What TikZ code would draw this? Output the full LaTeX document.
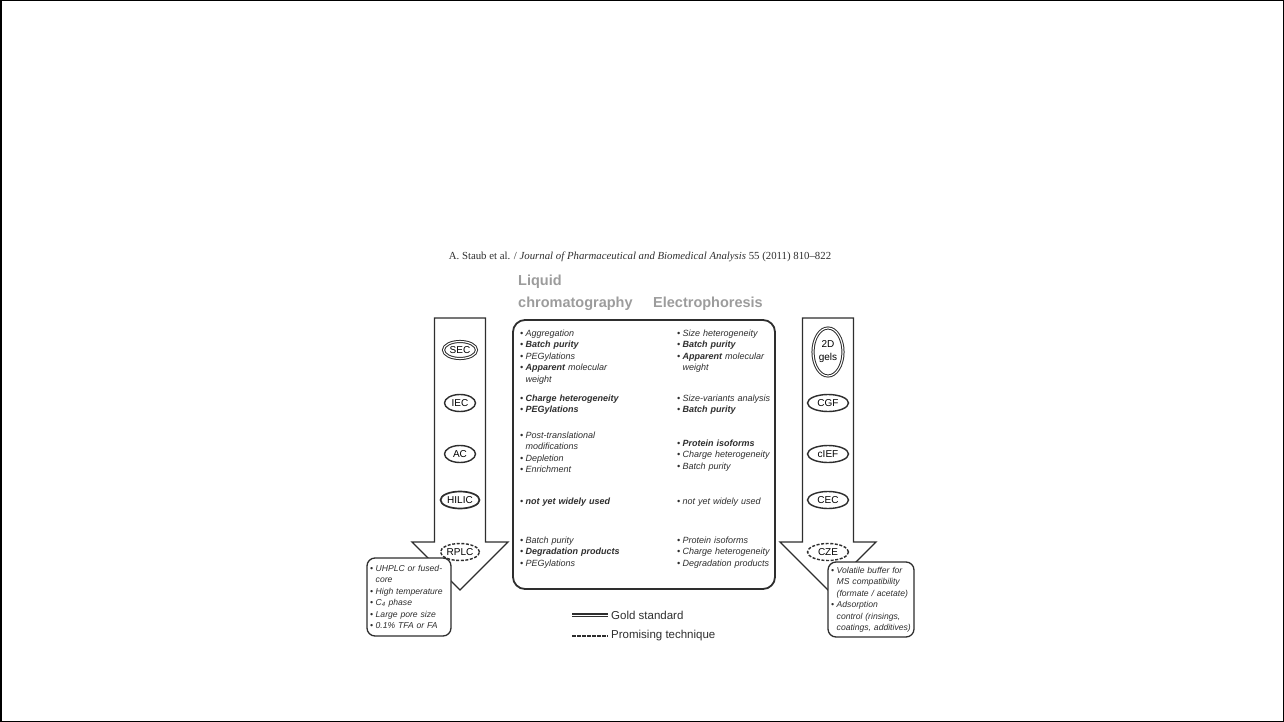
\documentclass[tikz,border=0pt]{standalone}
\usepackage{fontspec}
\setmainfont{Liberation Serif}
\setsansfont{Liberation Sans}
\usetikzlibrary{shapes.geometric}
\definecolor{ink}{HTML}{2E2E2E}
\definecolor{hdrgray}{HTML}{9C9C9C}
\newcommand{\myb}{\makebox[5.5pt][l]{\textbullet}}
\newcommand{\myc}{\hspace*{5.5pt}}
\begin{document}
\begin{tikzpicture}[x=1pt,y=-1pt,
  arrowshape/.style={draw=ink, line width=1.3pt, fill=white, line join=miter},
  mainbox/.style={draw=ink, line width=1.8pt, rounded corners=12pt, fill=white, inner sep=0pt},
  notebox/.style={draw=ink, line width=1.3pt, rounded corners=8pt, fill=white, inner sep=0pt},
  tech/.style={ellipse, draw=ink, line width=1.4pt, fill=white, inner sep=0pt, font=\sffamily\fontsize{10}{10}\selectfont, minimum height=17pt},
  gold/.style={tech, double=white, double distance=1.1pt, line width=1pt},
  promising/.style={tech, dash pattern=on 3pt off 1.6pt},
  items/.style={anchor=base west, inner sep=0pt, text width=140pt, align=left, font=\sffamily\itshape\fontsize{9}{11.5}\selectfont, text=ink},
  notes/.style={anchor=base west, inner sep=0pt, text width=90pt, align=left, font=\sffamily\itshape\fontsize{8.6}{11.5}\selectfont, text=ink},
  hdr/.style={anchor=base west, inner sep=0pt, font=\sffamily\bfseries\fontsize{14.5}{16}\selectfont, text=hdrgray},
  legend/.style={anchor=west, inner sep=0pt, font=\sffamily\fontsize{11.5}{12}\selectfont, text=ink},
  goldline/.style={draw=ink, line width=1.5pt, double=white, double distance=0.7pt},
  promline/.style={draw=ink, line width=1.6pt, dash pattern=on 3.5pt off 1.5pt}
]
\useasboundingbox (0,0) rectangle (1284,722);
\draw[line width=1.5pt] (0.75,0.75) rectangle (1283.25,721.25);

% title
\node[inner sep=0pt, font=\fontsize{10.8}{12}\selectfont, text=ink] (title) at (640,257)
  {A. Staub et al. / \textit{Journal of Pharmaceutical and Biomedical Analysis} 55 (2011) 810--822};

% headers
\node[hdr] (hliquid) at (518,285) {Liquid};
\node[hdr] (hchrom) at (518,307) {chromatography};
\node[hdr] (helec) at (653,307) {Electrophoresis};

% arrows
\draw[arrowshape] (434.5,318) -- (485.5,318) -- (485.5,542) -- (508,542) -- (460,590) -- (412,542) -- (434.5,542) -- cycle;
\draw[arrowshape] (802.5,318) -- (853.5,318) -- (853.5,542) -- (876,542) -- (828,590) -- (780,542) -- (802.5,542) -- cycle;

% left techniques
\node[gold, minimum width=33pt] (sec) at (460,350) {SEC};
\node[tech, minimum width=31pt] (iec) at (460,403) {IEC};
\node[tech, minimum width=31pt] (ac) at (460,454) {AC};
\node[tech, minimum width=39pt, line width=1.7pt] (hilic) at (460,500) {HILIC};
\node[promising, minimum width=39pt] (rplc) at (460,552) {RPLC};

% right techniques
\node[gold, minimum width=30pt, minimum height=48pt, align=center, font=\sffamily\fontsize{10}{13}\selectfont] (gels) at (828,352) {2D\\gels};
\node[tech, minimum width=41pt] (cgf) at (828,403) {CGF};
\node[tech, minimum width=41pt] (cief) at (828,454) {cIEF};
\node[tech, minimum width=41pt] (cec) at (828,500) {CEC};
\node[promising, minimum width=41pt] (cze) at (828,552) {CZE};

% central box
\node[mainbox, minimum width=262pt, minimum height=269pt] (center) at (644,454.5) {};

% note boxes
\node[notebox, minimum width=84pt, minimum height=78pt] (lnote) at (409,597) {};
\node[notebox, minimum width=86pt, minimum height=75pt] (rnote) at (871,599.5) {};

% left column
\node[items] (l1) at (520,336) {\myb Aggregation\\ \myb \textbf{Batch purity}\\ \myb PEGylations\\ \myb \textbf{Apparent} molecular\\ \myc weight};
\node[items] (l2) at (520,401) {\myb \textbf{Charge heterogeneity}\\ \myb \textbf{PEGylations}};
\node[items] (l3) at (520,438) {\myb Post-translational\\ \myc modifications\\ \myb Depletion\\ \myb Enrichment};
\node[items] (l4) at (520,504) {\myb \textbf{not yet widely used}};
\node[items] (l5) at (520,543) {\myb Batch purity\\ \myb \textbf{Degradation products}\\ \myb PEGylations};

% right column
\node[items] (r1) at (677,336) {\myb Size heterogeneity\\ \myb \textbf{Batch purity}\\ \myb \textbf{Apparent} molecular\\ \myc weight};
\node[items] (r2) at (677,401) {\myb Size-variants analysis\\ \myb \textbf{Batch purity}};
\node[items] (r3) at (677,446) {\myb \textbf{Protein isoforms}\\ \myb Charge heterogeneity\\ \myb Batch purity};
\node[items] (r4) at (677,504) {\myb not yet widely used};
\node[items] (r5) at (677,543) {\myb Protein isoforms\\ \myb Charge heterogeneity\\ \myb Degradation products};

% note texts
\node[notes] (ltext) at (370,571) {\myb UHPLC or fused-\\ \myc core\\ \myb High temperature\\ \myb C\textsubscript{4} phase\\ \myb Large pore size\\ \myb 0.1\% TFA or FA};
\node[notes] (rtext) at (831,573) {\myb Volatile buffer for\\ \myc MS compatibility\\ \myc (formate / acetate)\\ \myb Adsorption\\ \myc control (rinsings,\\ \myc coatings, additives)};

% legend
\coordinate (ga) at (572,615);
\coordinate (gb) at (608,615);
\coordinate (pa) at (572,636);
\coordinate (pb) at (608,636);
\draw[goldline] (ga) -- (gb);
\draw[promline] (pa) -- (pb);
\node[legend] (lgold) at (611,615) {Gold standard};
\node[legend] (lprom) at (611,636) {Promising technique};
\end{tikzpicture}
\end{document}
